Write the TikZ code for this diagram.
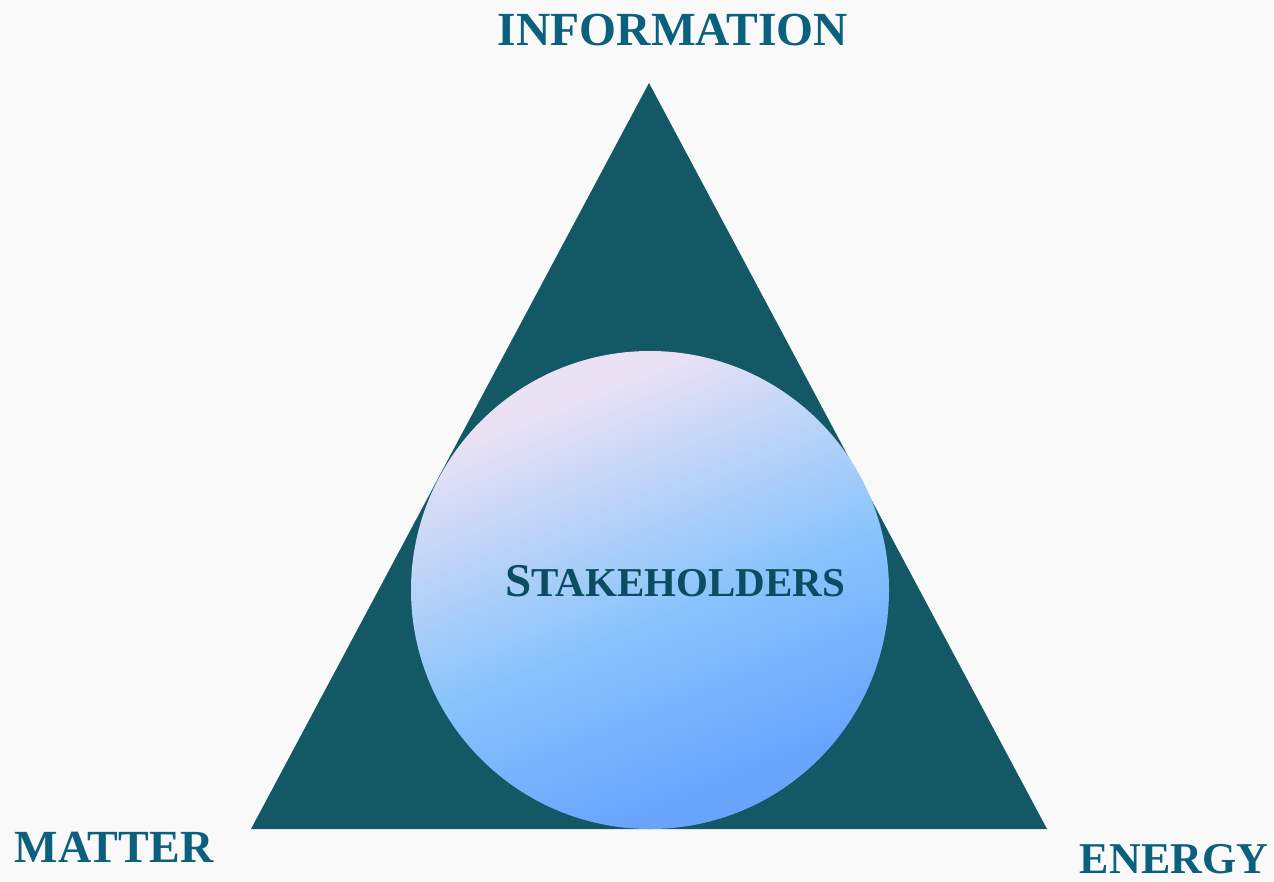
\documentclass[tikz,border=0pt]{standalone}
\usepackage{fontspec}
\setmainfont{Liberation Serif}
\definecolor{bgc}{RGB}{249,249,249}
\definecolor{tri}{RGB}{18,89,101}
\definecolor{lab}{RGB}{11,96,125}
\definecolor{stk}{RGB}{12,76,96}
\definecolor{gtop}{RGB}{234,226,244}
\definecolor{gmid}{RGB}{136,196,252}
\definecolor{gbot}{RGB}{104,164,252}
\pgfdeclareverticalshading{stakeshade}{100bp}{color(0bp)=(gbot); color(28bp)=(gbot); color(47bp)=(gmid); color(72bp)=(gtop); color(100bp)=(gtop)}
\tikzset{
  corner/.style={font=\fontsize{46}{50}\selectfont\bfseries, text=lab, anchor=base, inner sep=0pt},
}
\begin{document}
\begin{tikzpicture}[x=1pt,y=-1pt]
\fill[bgc] (0,0) rectangle (1274,881);
\useasboundingbox (0,0) rectangle (1274,881);
\coordinate (apex) at (649,83);
\coordinate (bl) at (251,829);
\coordinate (br) at (1047,829);
\fill[tri] (apex) -- (bl) -- (br) -- cycle;
\node[circle, minimum size=478pt, inner sep=0pt, shading=stakeshade, shading angle=22] (circ) at (650,590) {};
\node[corner, font=\fontsize{47.5}{50}\selectfont\bfseries] (info) at (673,45) {INFORMATION};
\node[corner] (matter) at (114,862) {MATTER};
\node[corner, font=\fontsize{44}{50}\selectfont\bfseries] (energy) at (1174,873) {ENERGY};
\node[anchor=base, inner sep=0pt, text=stk, font=\fontsize{41}{44}\selectfont\bfseries] (stake) at (675,596) {{\fontsize{47}{50}\selectfont S}TAKEHOLDERS};
\end{tikzpicture}
\end{document}
